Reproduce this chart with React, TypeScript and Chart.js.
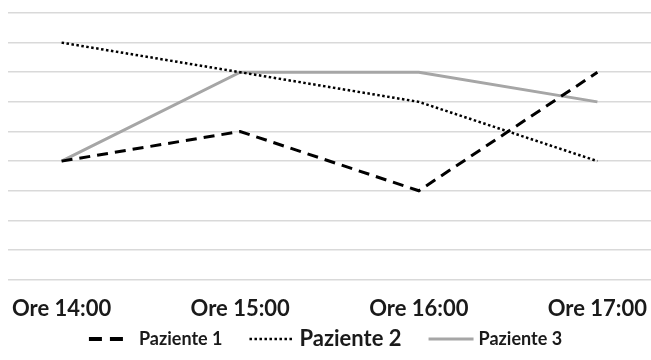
import React, { useEffect, useRef } from "react";
import { Chart, registerables } from "chart.js";

Chart.register(...registerables);

const categories = ["Ore 14:00", "Ore 15:00", "Ore 16:00", "Ore 17:00"];
const seriesNames = ["Paziente 1", "Paziente 2", "Paziente 3"];
const paziente1 = [4, 5, 3, 7];
const paziente2 = [8, 7, 6, 4];
const paziente3 = [4, 7, 7, 6];

const FONT = "Lato, 'Liberation Sans', sans-serif";

const legendFonts = [18, 22, 18];
const legendSampleW = [34, 43, 45];
const legendTextGap = [16, 7, 5];
const legendItemGap = 27;

const customLegend = {
  id: "customLegend",
  afterDraw(chart: any) {
    const ctx = chart.ctx;
    const ds = chart.data.datasets;
    const widths: number[] = [];
    ds.forEach((d: any, i: number) => {
      ctx.font = `bold ${legendFonts[i]}px ${FONT}`;
      widths.push(legendSampleW[i] + legendTextGap[i] + ctx.measureText(d.label).width);
    });
    const total = widths.reduce((a, b) => a + b, 0) + legendItemGap * (ds.length - 1);
    let x = (chart.width - total) / 2;
    const y = 339;
    ds.forEach((d: any, i: number) => {
      ctx.save();
      ctx.beginPath();
      ctx.strokeStyle = d.borderColor;
      ctx.lineWidth = i === 0 ? 4 : d.borderWidth;
      ctx.setLineDash(i === 0 ? [13, 8] : d.borderDash || []);
      ctx.moveTo(x, y);
      ctx.lineTo(x + legendSampleW[i], y);
      ctx.stroke();
      ctx.restore();
      ctx.save();
      ctx.font = `bold ${legendFonts[i]}px ${FONT}`;
      ctx.fillStyle = "#1a1a1a";
      ctx.textBaseline = "middle";
      ctx.textAlign = "left";
      ctx.fillText(d.label, x + legendSampleW[i] + legendTextGap[i], y);
      ctx.restore();
      x += widths[i] + legendItemGap;
    });
  },
};

export default function App() {
  const ref = useRef<HTMLCanvasElement | null>(null);
  useEffect(() => {
    document.body.style.margin = "0";
    const toPts = (arr: number[]) => arr.map((v, i) => ({ x: i, y: v }));
    const chart = new Chart(ref.current as HTMLCanvasElement, {
      type: "line",
      data: {
        datasets: [
          {
            label: seriesNames[0],
            data: toPts(paziente1),
            borderColor: "#000000",
            borderWidth: 3,
            borderDash: [11, 7],
            pointRadius: 0,
            tension: 0,
          },
          {
            label: seriesNames[1],
            data: toPts(paziente2),
            borderColor: "#000000",
            borderWidth: 2.5,
            borderDash: [2.5, 2.5],
            pointRadius: 0,
            tension: 0,
          },
          {
            label: seriesNames[2],
            data: toPts(paziente3),
            borderColor: "#a6a6a6",
            borderWidth: 3,
            pointRadius: 0,
            tension: 0,
          },
        ],
      },
      options: {
        responsive: false,
        animation: false,
        layout: { padding: { top: 13, left: 8, right: 0, bottom: 22 } },
        plugins: { legend: { display: false }, tooltip: { enabled: false } },
        scales: {
          x: {
            type: "linear",
            min: -0.3,
            max: 3.3,
            afterBuildTicks: (axis: any) => {
              axis.ticks = categories.map((_, i) => ({ value: i }));
            },
            afterFit: (scale: any) => {
              scale.paddingLeft = 0;
              scale.paddingRight = 0;
            },
            grid: { display: false, drawTicks: false },
            border: { display: false },
            ticks: {
              callback: (v: any) => categories[v as number] ?? "",
              font: { family: FONT, size: 22, weight: "bold" },
              color: "#1a1a1a",
              padding: 16,
              maxRotation: 0,
              autoSkip: false,
            },
          },
          y: {
            min: 0,
            max: 9,
            ticks: { display: false, stepSize: 1 },
            grid: { color: "#d9d9d9", lineWidth: 1.5, drawTicks: false },
            border: { display: false },
            afterFit: (scale: any) => {
              scale.width = 0;
            },
          },
        },
      },
      plugins: [customLegend],
    } as any);
    return () => chart.destroy();
  }, []);
  return (
    <div style={{ width: 651, height: 360 }}>
      <canvas ref={ref} width={651} height={360} />
    </div>
  );
}
